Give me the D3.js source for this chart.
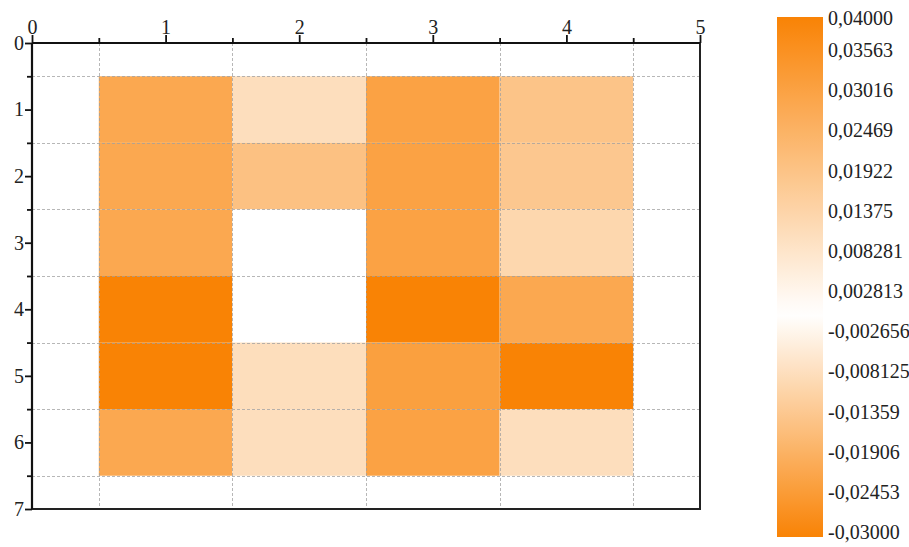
<!DOCTYPE html>
<html>
<head>
<meta charset="utf-8">
<script src="https://cdn.jsdelivr.net/npm/d3@7"></script>
<style>
  html, body { margin: 0; padding: 0; background: #fff; }
  svg { display: block; font-family: "Liberation Serif", "Times New Roman", serif; }
</style>
</head>
<body>
<svg id="chart" width="909" height="547"></svg>
<script>
// Grid of cell values: columns 1..4, rows 1..6
const columns = [1, 2, 3, 4];
const rows = [1, 2, 3, 4, 5, 6];
const row1 = [0.028, 0.0105, 0.030, 0.019];
const row2 = [0.028, 0.020, 0.030, 0.018];
const row3 = [0.028, 0.000, 0.030, 0.013];
const row4 = [0.040, 0.000, 0.040, 0.028];
const row5 = [-0.030, -0.008, -0.023, -0.030];
const row6 = [0.028, 0.0105, 0.030, 0.0105];
const rowValues = [row1, row2, row3, row4, row5, row6];

// Axis ticks
const xTicks = [0, 1, 2, 3, 4, 5];
const xMinorTicks = [0.5, 1.5, 2.5, 3.5, 4.5];
const yTicks = [0, 1, 2, 3, 4, 5, 6, 7];
const yMinorTicks = [0.5, 1.5, 2.5, 3.5, 4.5, 5.5, 6.5];

// Colour bar range and labels
const colorMin = -0.03;
const colorMid = 0.0;
const colorMax = 0.04;
const colorTicks = [0.04, 0.03563, 0.03016, 0.02469, 0.01922, 0.01375, 0.008281,
  0.002813, -0.002656, -0.008125, -0.01359, -0.01906, -0.02453, -0.03];

const orange = "#f98305";
const fontFamily = "'Liberation Serif', 'Times New Roman', serif";

const svg = d3.select("#chart");

const x = d3.scaleLinear().domain([0, 5]).range([32, 700]);
const y = d3.scaleLinear().domain([0, 7]).range([43, 509]);

const color = d3.scaleLinear()
  .domain([colorMin, colorMid, colorMax])
  .range([orange, "#ffffff", orange])
  .interpolate(d3.interpolateRgb);

// Cells
const cells = [];
rows.forEach((r, i) => columns.forEach((c, j) => cells.push({ c, r, v: rowValues[i][j] })));

svg.append("g").selectAll("rect")
  .data(cells)
  .join("rect")
  .attr("x", d => x(d.c - 0.5))
  .attr("y", d => y(d.r - 0.5))
  .attr("width", d => x(d.c + 0.5) - x(d.c - 0.5))
  .attr("height", d => y(d.r + 0.5) - y(d.r - 0.5))
  .attr("fill", d => color(d.v));

// Dashed grid at the half-unit positions
const grid = svg.append("g")
  .attr("stroke", "#a0a0a0")
  .attr("stroke-width", 1)
  .attr("stroke-dasharray", "3,2")
  .attr("opacity", 0.75);
grid.selectAll("line.v")
  .data(xMinorTicks)
  .join("line")
  .attr("class", "v")
  .attr("x1", d => Math.round(x(d)) + 0.5).attr("x2", d => Math.round(x(d)) + 0.5)
  .attr("y1", y(0)).attr("y2", y(7));
grid.selectAll("line.h")
  .data(yMinorTicks)
  .join("line")
  .attr("class", "h")
  .attr("y1", d => Math.round(y(d)) + 0.5).attr("y2", d => Math.round(y(d)) + 0.5)
  .attr("x1", x(0)).attr("x2", x(5));

// Frame on right and bottom
svg.append("path")
  .attr("d", `M${x(0)},${y(7)}H${x(5)}V${y(0)}`)
  .attr("fill", "none")
  .attr("stroke", "#222")
  .attr("stroke-width", 2);

// Top axis
const xAxis = svg.append("g")
  .attr("transform", `translate(0,${y(0)})`)
  .call(d3.axisTop(x).tickValues(xTicks).tickSize(8).tickPadding(1).tickFormat(d3.format("d")));
svg.append("g")
  .attr("transform", `translate(0,${y(0)})`)
  .call(d3.axisTop(x).tickValues(xMinorTicks).tickSize(5).tickFormat(""))
  .call(g => g.select(".domain").remove());

// Left axis
const yAxis = svg.append("g")
  .attr("transform", `translate(${x(0)},0)`)
  .call(d3.axisLeft(y).tickValues(yTicks).tickSize(7).tickPadding(1).tickFormat(d3.format("d")));
svg.append("g")
  .attr("transform", `translate(${x(0)},0)`)
  .call(d3.axisLeft(y).tickValues(yMinorTicks).tickSize(5).tickFormat(""))
  .call(g => g.select(".domain").remove());

svg.selectAll(".domain").attr("stroke", "#111").attr("stroke-width", 2.2);
svg.selectAll(".tick line").attr("stroke", "#111").attr("stroke-width", 1.8);
svg.selectAll("g").attr("font-family", fontFamily);
svg.selectAll(".tick text")
  .attr("font-size", 20)
  .attr("fill", "#222");
xAxis.selectAll(".domain").attr("d", `M${x(0)},0H${x(5)}`);
yAxis.selectAll(".domain").attr("d", `M0,${y(0)}V${y(7)}`);

// Colour bar
const barX = 777, barW = 46, barTop = 17, barBottom = 537;
const legendScale = d3.scaleLinear().domain([colorMax, colorMin]).range([barTop, barBottom]);

const defs = svg.append("defs");
const grad = defs.append("linearGradient")
  .attr("id", "cbar")
  .attr("x1", 0).attr("y1", 0).attr("x2", 0).attr("y2", 1);
d3.range(0, 41).map(i => colorMax - (colorMax - colorMin) * i / 40).forEach(v => {
  grad.append("stop")
    .attr("offset", (legendScale(v) - barTop) / (barBottom - barTop))
    .attr("stop-color", color(v));
});
svg.append("rect")
  .attr("x", barX).attr("y", barTop)
  .attr("width", barW).attr("height", barBottom - barTop)
  .attr("fill", "url(#cbar)");

const locale = d3.formatLocale({ decimal: ",", thousands: ".", grouping: [3], currency: ["", ""], minus: "-" });
const fmt = locale.format(".4r");
const labelScale = d3.scaleLinear().domain([colorMax, colorMin]).range([18, 532]);

svg.append("g").selectAll("text")
  .data(colorTicks)
  .join("text")
  .attr("x", 828)
  .attr("y", d => labelScale(d))
  .attr("dy", "0.35em")
  .attr("font-family", fontFamily)
  .attr("font-size", 20)
  .attr("fill", "#222")
  .text(d => fmt(d));
</script>
</body>
</html>
